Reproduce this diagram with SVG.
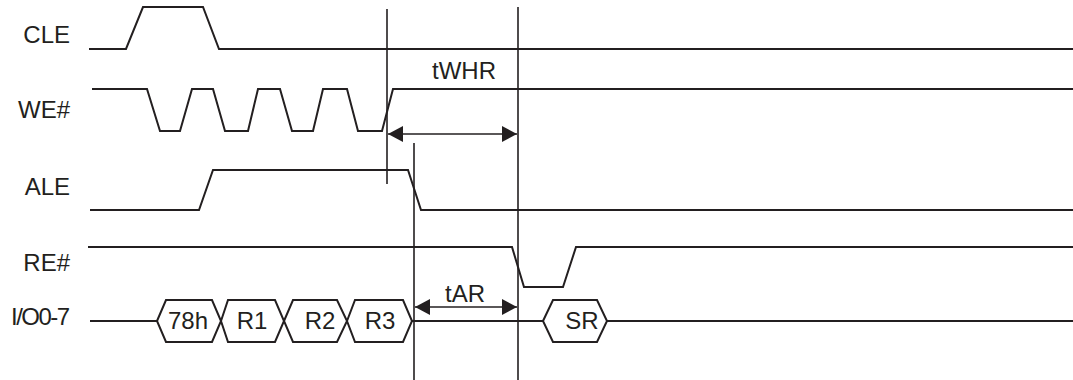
<svg xmlns="http://www.w3.org/2000/svg" width="1073" height="380" viewBox="0 0 1073 380">
<style>
.sig{fill:none;stroke:#231f20;stroke-width:2;stroke-linejoin:miter}
.hex{fill:#fff;stroke:#231f20;stroke-width:2}
.vl{stroke:#231f20;stroke-width:1.6}
.lbl{font-family:"Liberation Sans",Arial,sans-serif;font-size:24px;fill:#231f20;text-anchor:end}
.t{font-family:"Liberation Sans",Arial,sans-serif;font-size:24px;fill:#231f20;text-anchor:middle}
</style>
<defs>
<marker id="ah" markerWidth="16" markerHeight="16" refX="15" refY="8" orient="auto-start-reverse" markerUnits="userSpaceOnUse">
<path d="M0,0 L15,8 L0,16 Z" fill="#231f20"/>
</marker>
</defs>
<rect width="1073" height="380" fill="#fff"/>
<g id="labels">
<text class="lbl" x="70" y="43">CLE</text>
<text class="lbl" x="70" y="118">WE#</text>
<text class="lbl" x="70" y="195">ALE</text>
<text class="lbl" x="70" y="271">RE#</text>
<text class="lbl" x="70" y="325" textLength="59" lengthAdjust="spacing">I/O0-7</text>
</g>
<g id="CLE"><path class="sig" d="M89,49 H126 L143,7 H203 L219,49 H1073"/></g>
<g id="WE"><path class="sig" d="M92,89 H147 L160,131 H180 L192,89 H213 L225,131 H248 L258,89 H280 L292,131 H313 L323,89 H347 L358,131 H382 L393,89 H1073"/></g>
<g id="ALE"><path class="sig" d="M90,210 H199 L213,170 H408 L421,210 H1073"/></g>
<g id="RE"><path class="sig" d="M88,247 H512 L524,287 H563 L576,247 H1073"/></g>
<g id="IO">
<path class="sig" d="M90,321 H157"/>
<path class="sig" d="M412,321 H543"/>
<path class="sig" d="M607,321 H1073"/>
<polygon class="hex" points="157,321 166,300 212,300 221,321 212,342 166,342"/>
<polygon class="hex" points="221,321 228,300 275,300 284,321 275,342 228,342"/>
<polygon class="hex" points="284,321 293,300 337,300 347,321 337,342 293,342"/>
<polygon class="hex" points="347,321 355,300 403,300 412,321 403,342 355,342"/>
<polygon class="hex" points="543,321 553,300 597,300 607,321 597,342 553,342"/>
<text class="t" x="188" y="329">78h</text>
<text class="t" x="252" y="329">R1</text>
<text class="t" x="320" y="329">R2</text>
<text class="t" x="380" y="329">R3</text>
<text class="t" x="582" y="329">SR</text>
</g>
<g id="connectors">
<line class="vl" x1="387" y1="9" x2="387" y2="184"/>
<line class="vl" x1="518" y1="7" x2="518" y2="380"/>
<line class="vl" x1="414" y1="143" x2="414" y2="380"/>
<line class="vl" x1="388" y1="134" x2="517" y2="134" marker-start="url(#ah)" marker-end="url(#ah)"/>
<line class="vl" x1="415" y1="307" x2="517" y2="307" marker-start="url(#ah)" marker-end="url(#ah)"/>
<text class="t" x="464" y="79">tWHR</text>
<text class="t" x="465" y="302">tAR</text>
</g>
</svg>
